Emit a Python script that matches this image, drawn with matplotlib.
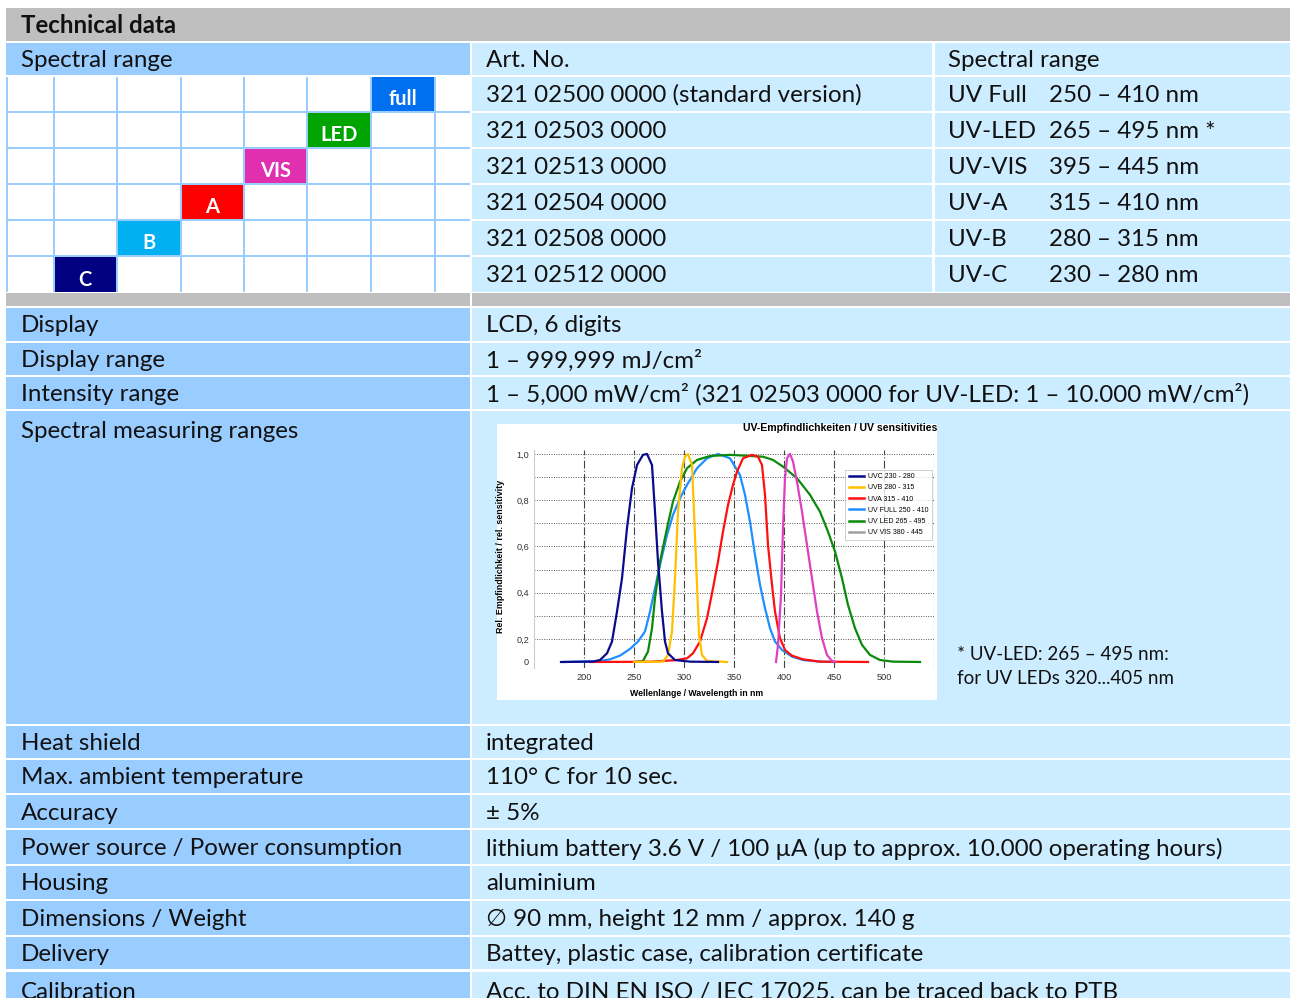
import numpy as np
import matplotlib
matplotlib.use('Agg')
import matplotlib.pyplot as plt
from matplotlib.patches import Rectangle
from matplotlib.lines import Line2D

plt.rcParams['font.family'] = ['Lato', 'DejaVu Sans']

# ---- table data ----
band_labels = ['full', 'LED', 'VIS', 'A', 'B', 'C']
band_colors = ['#0070F0', '#00A400', '#E030B0', '#FF0000', '#00B0F0', '#000080']
art_numbers = ['321 02500 0000 (standard version)', '321 02503 0000', '321 02513 0000',
               '321 02504 0000', '321 02508 0000', '321 02512 0000']
range_names = ['UV Full', 'UV-LED', 'UV-VIS', 'UV-A', 'UV-B', 'UV-C']
range_values = ['250 – 410 nm', '265 – 495 nm *', '395 – 445 nm',
                '315 – 410 nm', '280 – 315 nm', '230 – 280 nm']

spec_labels = ['Display', 'Display range', 'Intensity range', 'Spectral measuring ranges',
               'Heat shield', 'Max. ambient temperature', 'Accuracy',
               'Power source / Power consumption', 'Housing', 'Dimensions / Weight',
               'Delivery', 'Calibration']
spec_values = ['LCD, 6 digits', '1 – 999,999 mJ/cm²',
               '1 – 5,000 mW/cm² (321 02503 0000 for UV-LED: 1 – 10.000 mW/cm²)', '',
               'integrated', '110° C for 10 sec.', '± 5%',
               'lithium battery 3.6 V / 100 µA (up to approx. 10.000 operating hours)',
               'aluminium', '∅ 90 mm, height 12 mm / approx. 140 g',
               'Battey, plastic case, calibration certificate',
               'Acc. to DIN EN ISO / IEC 17025, can be traced back to PTB']
footnote = ['* UV-LED: 265 – 495 nm:', 'for UV LEDs 320...405 nm']

# ---- sensitivity curves ----
uvc_nm = [177, 209, 216, 223, 228, 233, 238, 243, 248, 253, 259, 263, 268, 271, 274, 278,
          281, 284, 291, 306, 334]
uvc_val = [0, 0.003, 0.017, 0.075, 0.177, 0.318, 0.462, 0.679, 0.852, 0.952, 0.996, 1.0,
           0.952, 0.75, 0.534, 0.318, 0.177, 0.075, 0.017, 0.003, 0]
uvb_nm = [250, 279, 284, 288, 291, 294, 298, 301, 304, 308, 310, 313, 315, 318, 323, 343]
uvb_val = [0, 0.003, 0.06, 0.232, 0.462, 0.75, 0.938, 0.988, 1.0, 0.952, 0.75, 0.434,
           0.217, 0.06, 0.009, 0]
uva_nm = [206, 266, 293, 303, 309, 316, 323, 329, 334, 339, 344, 349, 353, 359, 368, 374,
          378, 381, 384, 388, 391, 396, 401, 408, 419, 436, 484]
uva_val = [0, 0.002, 0.017, 0.032, 0.075, 0.177, 0.289, 0.419, 0.534, 0.664, 0.779, 0.866,
           0.923, 0.981, 0.996, 0.988, 0.952, 0.823, 0.606, 0.434, 0.318, 0.203, 0.104,
           0.055, 0.023, 0.003, 0]
full_nm = [180, 216, 226, 236, 246, 254, 261, 266, 271, 276, 283, 289, 296, 303, 313, 323,
           334, 346, 356, 361, 366, 371, 376, 381, 386, 391, 398, 408, 419, 436, 449]
full_val = [0, 0.009, 0.023, 0.055, 0.113, 0.177, 0.232, 0.318, 0.419, 0.52, 0.65, 0.736,
            0.808, 0.866, 0.938, 0.981, 1.0, 0.981, 0.909, 0.823, 0.707, 0.563, 0.434,
            0.333, 0.246, 0.177, 0.104, 0.046, 0.017, 0.003, 0]
led_nm = [251, 259, 264, 268, 271, 276, 283, 289, 296, 303, 313, 326, 346, 379, 389, 399,
          413, 426, 436, 444, 451, 458, 464, 471, 478, 486, 496, 509, 536]
led_val = [0, 0.009, 0.09, 0.246, 0.376, 0.534, 0.679, 0.794, 0.88, 0.938, 0.974, 0.991,
           0.996, 0.988, 0.974, 0.945, 0.895, 0.823, 0.75, 0.664, 0.578, 0.462, 0.347,
           0.246, 0.148, 0.061, 0.017, 0.003, 0]
vis_nm = [392, 394, 397, 399, 401, 403, 406, 409, 413, 418, 423, 428, 433, 438, 443, 448, 451]
vis_val = [0, 0.148, 0.39, 0.679, 0.895, 0.981, 1.0, 0.967, 0.88, 0.75, 0.606, 0.462, 0.318,
           0.203, 0.061, 0.009, 0]
legend_labels = ['UVC 230 - 280', 'UVB 280 - 315', 'UVA 315 - 410', 'UV FULL 250 - 410',
                 'UV LED 265 - 495', 'UV VIS 380 - 445']
y_ticks = [0, 0.2, 0.4, 0.6, 0.8, 1.0]
y_grid = [0.2, 0.3, 0.4, 0.5, 0.6, 0.7, 0.8, 0.9, 1.0]
x_ticks = [200, 250, 300, 350, 400, 450, 500]

LEFT = '#99CCFF'
RIGHT = '#CCECFF'
GRAY = '#BFBFBF'
FS = 17.4

fig = plt.figure(figsize=(12.9, 9.98), dpi=100)
ax = fig.add_axes([0, 0, 1, 1])
ax.set_xlim(0, 1290)
ax.set_ylim(998, 0)
ax.axis('off')


def box(x0, y0, x1, y1, color):
    ax.add_patch(Rectangle((x0, y0), x1 - x0, y1 - y0, facecolor=color, edgecolor='none'))


def txt(x, y, s, **kw):
    kw.setdefault('fontsize', FS)
    ax.text(x, y, s, va='center', ha=kw.pop('ha', 'left'), color=kw.pop('color', '#111111'), **kw)


# header
box(6, 8, 1290, 41, GRAY)
txt(21, 25, 'Technical data', fontweight='bold')
box(6, 43, 470, 75, LEFT)
box(472, 43, 932, 75, RIGHT)
box(935, 43, 1290, 75, RIGHT)
txt(21, 60, 'Spectral range')
txt(486, 60, 'Art. No.')
txt(948, 60, 'Spectral range')

# spectral range grid
col_edges = [6, 53, 116, 180, 243, 306, 370, 434, 470]
grid_tops = [77, 113, 149, 185, 221, 257]
grid_bots = [111, 147, 183, 219, 255, 292]
box(6, 77, 470, 292, LEFT)
for r in range(6):
    for c in range(8):
        x0 = col_edges[c] + 1.6
        x1 = col_edges[c + 1]
        color = band_colors[r] if c == 6 - r else 'white'
        box(x0, grid_tops[r], x1, grid_bots[r], color)
        if c == 6 - r:
            txt((x0 + x1) / 2, (grid_tops[r] + grid_bots[r]) / 2 + 5, band_labels[r],
                ha='center', color='white', fontweight='bold', fontsize=14.5)
    box(472, grid_tops[r], 932, grid_bots[r], RIGHT)
    box(935, grid_tops[r], 1290, grid_bots[r], RIGHT)
    ym = (grid_tops[r] + grid_bots[r]) / 2 + 1
    txt(486, ym, art_numbers[r])
    txt(948, ym, range_names[r])
    txt(1049, ym, range_values[r])

box(6, 293, 470, 306, GRAY)
box(472, 293, 1290, 306, GRAY)

# specification rows
row_tops = [308, 343, 377, 411, 726, 760, 795, 830, 866, 901, 937, 972]
row_bots = [341, 375, 409, 724, 758, 793, 828, 864, 899, 935, 969, 1010]
for lab, val, t, b in zip(spec_labels, spec_values, row_tops, row_bots):
    box(6, t, 470, b, LEFT)
    box(472, t, 1290, b, RIGHT)
    ym = (t + b) / 2 + 1.5 if b - t < 60 else t + 20
    txt(21, ym, lab)
    txt(486, ym, val)

txt(957, 654, footnote[0], fontsize=13.5)
txt(957, 679, footnote[1], fontsize=13.5)

# small sensitivity chart
box(497, 424, 937, 700, 'white')
W, H = 1290.0, 998.0
ax2 = fig.add_axes([534 / W, (H - 668) / H, 400 / W, 218 / H])
ax2.patch.set_alpha(0)


def fwd(y):
    y = np.asarray(y, dtype=float)
    return np.where(y < 0.2, 0.1 + 0.5 * y, y)


def inv(p):
    p = np.asarray(p, dtype=float)
    return np.where(p < 0.2, (p - 0.1) * 2, p)


ax2.set_yscale('function', functions=(fwd, inv))
ax2.set_xlim(150, 550)
ax2.set_ylim(-0.052, 1.017)
for v in y_grid:
    ax2.axhline(v, color='#555555', lw=0.7, ls=(0, (1, 1.5)), zorder=1)
for v in x_ticks + [550]:
    ax2.axvline(v, color='#444444', lw=0.8, ls=(0, (7, 2, 1, 2)), zorder=1)

ax2.plot(full_nm, full_val, color='#1E8FFF', lw=1.6, zorder=3)
ax2.plot(led_nm, led_val, color='#0A8A0A', lw=1.6, zorder=3)
ax2.plot(uva_nm, uva_val, color='#FF1010', lw=1.6, zorder=3)
ax2.plot(uvb_nm, uvb_val, color='#FFC000', lw=1.6, zorder=3)
ax2.plot(uvc_nm, uvc_val, color='#0A0A8C', lw=1.6, zorder=3)
ax2.plot(vis_nm, vis_val, color='#E040C0', lw=1.6, zorder=3)

handles = [Line2D([], [], color=c, lw=1.8) for c in
           ['#0A0A8C', '#FFC000', '#FF1010', '#1E8FFF', '#0A8A0A', '#A0A0A0']]
leg = ax2.legend(handles, legend_labels, loc='upper left', bbox_to_anchor=(0.77, 0.925),
                 frameon=True, fancybox=False, edgecolor='#BBBBBB',
                 handlelength=2.2, labelspacing=0.62, borderpad=0.45, handletextpad=0.6,
                 prop={'family': 'Liberation Sans', 'size': 5.0})
leg.get_frame().set_linewidth(0.6)

ax2.set_yticks(y_ticks)
ax2.set_yticklabels(['0', '0,2', '0,4', '0,6', '0,8', '1,0'])
ax2.set_xticks(x_ticks)
ax2.set_xticklabels([str(v) for v in x_ticks])
ax2.minorticks_off()
ax2.tick_params(length=0, labelsize=6.6, colors='#333333', pad=3.5)
for lbl in ax2.get_xticklabels() + ax2.get_yticklabels():
    lbl.set_family('Liberation Sans')
for s in ['top', 'right', 'bottom']:
    ax2.spines[s].set_visible(False)
ax2.spines['left'].set_color('#CCCCCC')
ax2.spines['left'].set_linewidth(0.8)

fig.text(937 / W, 1 - 428 / H, 'UV-Empfindlichkeiten / UV sensitivities', ha='right',
         va='center', fontsize=7.6, fontweight='bold', family='Liberation Sans')
fig.text(500 / W, 1 - 556 / H, 'Rel. Empfindlichkeit / rel. sensitivity', rotation=90,
         ha='center', va='center', fontsize=6.4, fontweight='bold', family='Liberation Sans')
fig.text(697 / W, 1 - 694 / H, 'Wellenlänge / Wavelength in nm', ha='center',
         va='center', fontsize=6.3, fontweight='bold', family='Liberation Sans')

fig.savefig('out.png', dpi=100)
